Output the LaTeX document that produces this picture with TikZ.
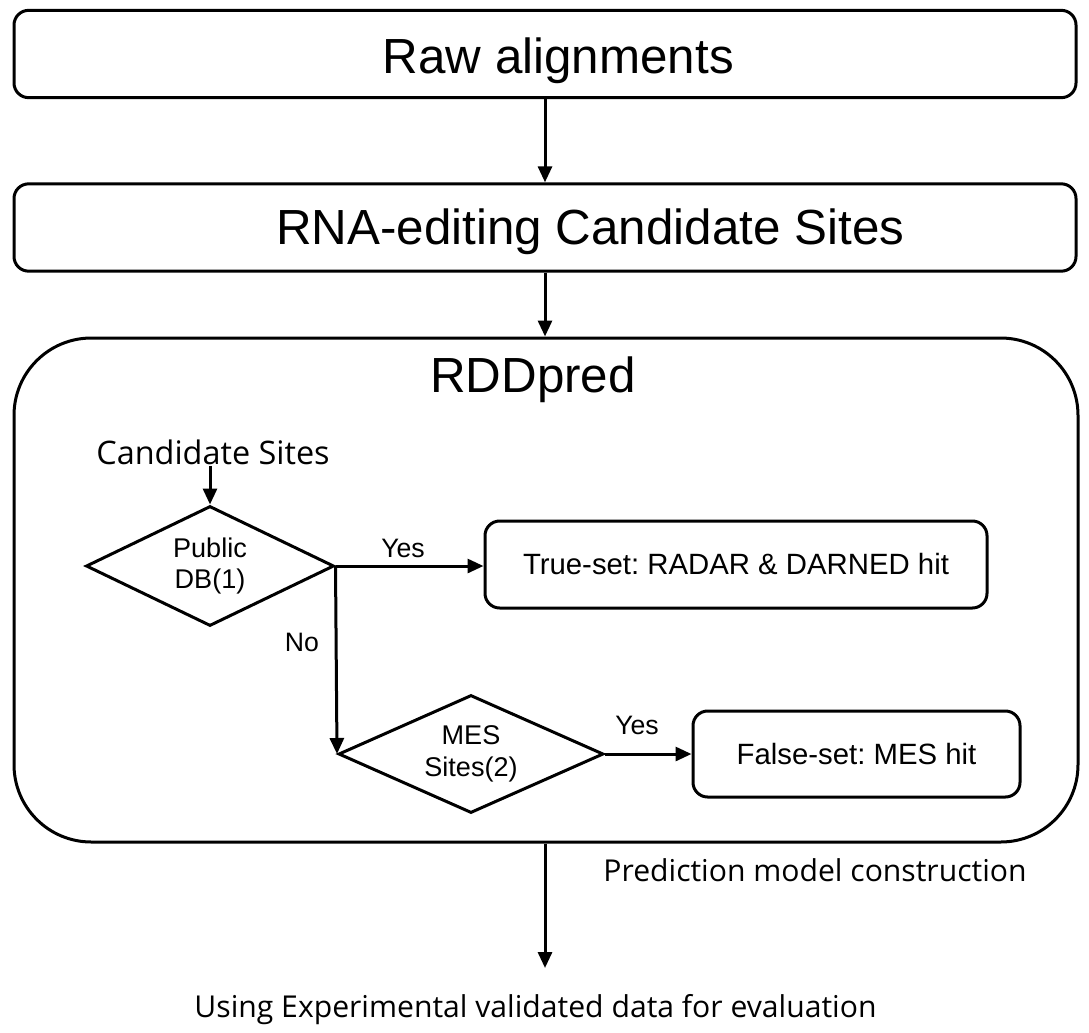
\documentclass[tikz,border=0pt]{standalone}
\usepackage{fontspec}
\setmainfont{Liberation Sans}
\newfontfamily\kfont{Open Sans}
\usetikzlibrary{arrows.meta,shapes.geometric}
\frenchspacing
\begin{document}
\begin{tikzpicture}[x=0.75pt,y=-0.75pt,line width=2.25pt,
  >={Triangle[length=12pt,width=10.5pt]},
  bigbox/.style={draw,rounded corners=11pt,minimum width=796.5pt,minimum height=65.5pt,inner sep=0pt},
  setbox/.style={draw,rounded corners=11pt,inner sep=0pt,font=\fontsize{22pt}{26pt}\selectfont},
  decision/.style={draw,diamond,inner sep=0pt,align=center,font=\fontsize{20.3pt}{23.5pt}\selectfont},
  lbl/.style={font=\fontsize{20pt}{24pt}\selectfont,inner sep=0pt},
  ktext/.style={font=\kfont\fontsize{22.6pt}{26pt}\selectfont,inner sep=0pt}]
\useasboundingbox (0,0) rectangle (1089,1032);
\node[bigbox,label={[font=\fontsize{37pt}{40pt}\selectfont,xshift=10pt,yshift=-5pt]center:Raw alignments}] (raw) at (545,54) {};
\node[bigbox,label={[font=\fontsize{37pt}{40pt}\selectfont,xshift=34pt,yshift=-3.5pt]center:RNA-editing Candidate Sites}] (rna) at (545,227.5) {};
\node[draw,rounded corners=58pt,minimum width=798pt,minimum height=378pt,inner sep=0pt] (rdd) at (546,590) {};
\node[font=\fontsize{37pt}{40pt}\selectfont,inner sep=0pt] (title) at (533,380) {RDDpred};
\node[ktext,font=\kfont\fontsize{24.3pt}{28pt}\selectfont] (cs) at (213,452) {Candidate Sites};
\node[decision,aspect=2.07,minimum width=186pt,minimum height=90pt] (d1) at (210,566) {Public\\DB(1)};
\node[setbox,minimum width=376.5pt,minimum height=65.25pt] (tru) at (736,564.5) {True-set: RADAR \& DARNED hit};
\node[decision,aspect=2.25,minimum width=198.75pt,minimum height=88.5pt] (d2) at (471,754) {MES\\Sites(2)};
\node[setbox,minimum width=245.25pt,minimum height=64.5pt] (fal) at (856.5,754) {False-set: MES hit};
\node[lbl] (y1) at (403,548) {Yes};
\node[lbl] (no) at (302,642) {No};
\node[lbl] (y2) at (637,725) {Yes};
\node[ktext] (pmc) at (815,870) {Prediction model construction};
\node[ktext] (use) at (535.5,1010) {Using Experimental validated data for evaluation};
\coordinate (endpt) at (545,968);
\draw[->] (raw.south) -- (rna.north);
\draw[->] (rna.south) -- (rna.south |- rdd.north);
\draw[->] (cs.south -| d1.north) -- (d1.north);
\draw[->] (d1.east) -- (d1.east -| tru.west);
\draw[->] (d1.east) -- (d2.west);
\draw[->] (d2.east) -- (d2.east -| fal.west);
\draw[->] (rdd.south -| endpt) -- (endpt);
\end{tikzpicture}
\end{document}
